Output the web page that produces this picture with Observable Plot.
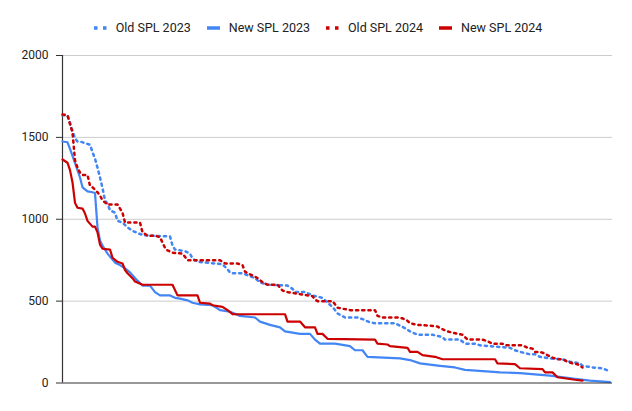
<!DOCTYPE html>
<html>
<head>
<meta charset="utf-8">
<script src="https://cdn.jsdelivr.net/npm/d3@7"></script>
<script src="https://cdn.jsdelivr.net/npm/@observablehq/plot@0.6"></script>
<style>
  html, body { margin: 0; padding: 0; background: #fff; }
  body { width: 632px; height: 411px; overflow: hidden; font-family: Roboto, Arial, sans-serif; }
  #legend { height: 45px; display: flex; justify-content: center; align-items: center; font-size: 12.5px; color: #222; padding: 10px 0 0 4px; box-sizing: border-box; }
  #legend .item { display: flex; align-items: center; margin: 0 8px; }
  #legend svg { margin-right: 9px; }
</style>
</head>
<body>
<div id="legend"></div>
<div id="chart"></div>
<script>
// Series names and colours
const seriesNames = ["Old SPL 2023", "New SPL 2023", "Old SPL 2024", "New SPL 2024"];
const seriesColors = ["#4285F4", "#4285F4", "#CC0000", "#CC0000"];
const seriesDotted = [true, false, true, false];

// Old SPL 2023 (rank, value)
const os23Rank  = [0,2,3,4,5,6,7,9,11,12,13,14,15,16,17,18,19,21,22,24,26,28,30,32,34,43,44,45,49,51,52,54,61,64,66,67,68,72,77,79,82,90,92,93,97,100,104,106,108,110,113,118,120,123,125,133,135,137,139,142,148,152,153,159,161,165,167,171,179,181,183,187,189,191,195,200,203,207,208,212,216,219];
const os23Value = [1635,1635,1590,1540,1495,1475,1475,1465,1455,1410,1370,1315,1255,1190,1115,1095,1055,1040,990,980,950,930,915,905,900,895,840,815,805,790,760,740,730,725,695,675,670,670,640,615,600,595,575,555,555,535,520,490,465,425,400,400,390,370,365,365,350,335,315,295,295,280,265,265,240,240,230,225,215,200,190,175,175,160,150,145,130,120,105,95,90,70];

// New SPL 2023
const ns23Rank  = [0,2,3,5,7,8,10,12,13,14,15,16,18,21,23,25,27,30,32,35,37,39,43,45,47,50,52,55,60,63,67,71,77,79,83,87,89,95,99,101,103,109,115,117,120,122,135,139,143,151,157,161,171,175,183,195,205,211,219];
const ns23Value = [1475,1470,1430,1345,1255,1195,1170,1165,1160,950,870,840,790,735,720,700,675,625,595,595,555,535,535,520,515,505,490,480,475,445,435,410,400,375,355,340,315,300,300,265,240,240,225,200,200,160,150,140,120,105,95,80,70,65,60,45,25,15,5];

// Old SPL 2024
const os24Rank  = [0,2,3,4,5,6,7,8,10,11,12,14,15,16,18,22,24,25,31,32,34,37,39,41,42,44,48,50,63,65,70,72,73,74,77,78,80,82,86,88,90,94,100,101,102,108,110,115,125,126,128,134,136,138,139,142,147,150,151,154,158,160,161,162,168,170,172,176,177,184,186,188,189,191,193,194,196,198,200,202,204,206,208];
const os24Value = [1640,1635,1580,1530,1360,1315,1285,1270,1270,1205,1195,1165,1145,1115,1090,1090,1040,980,980,920,900,900,890,825,810,795,790,750,750,730,730,720,680,670,650,640,615,600,600,565,555,545,530,510,500,500,460,445,445,410,400,400,395,380,365,355,350,345,335,315,300,295,280,265,265,255,240,240,230,230,215,210,190,190,180,170,155,145,145,130,120,115,95];

// New SPL 2024
const ns24Rank  = [0,2,3,4,5,6,8,9,10,12,13,14,15,16,19,20,22,24,25,26,28,29,32,44,46,54,55,59,60,64,66,68,89,90,95,97,101,102,104,106,125,126,130,131,138,139,142,144,149,152,173,174,181,183,192,193,196,198,205,208];
const ns24Value = [1365,1345,1300,1225,1100,1070,1065,1035,990,955,955,920,845,820,815,765,740,730,690,670,640,620,600,600,535,535,490,485,475,465,445,420,420,375,375,340,340,300,300,270,265,240,235,225,215,190,190,170,160,145,145,120,115,90,85,65,65,35,20,15];

// Axis ticks
const yTicks = [0, 500, 1000, 1500, 2000];

const ranks = [os23Rank, ns23Rank, os24Rank, ns24Rank];
const values = [os23Value, ns23Value, os24Value, ns24Value];

const rows = [];
seriesNames.forEach((name, i) => {
  ranks[i].forEach((r, j) => rows.push({series: name, rank: r, value: values[i][j]}));
});

const lineMarks = seriesNames.map((name, i) =>
  Plot.line(rows.filter(d => d.series === name), {
    x: "rank", y: "value",
    stroke: seriesColors[i],
    strokeWidth: seriesDotted[i] ? 2.5 : 2.2,
    strokeDasharray: seriesDotted[i] ? "2.2,4" : null,
    strokeLinejoin: "round"
  })
);

const chart = Plot.plot({
  width: 632,
  height: 366,
  marginLeft: 62,
  marginRight: 20,
  marginTop: 10,
  marginBottom: 28.5,
  style: {fontFamily: "Roboto, Arial, sans-serif", fontSize: "12px", color: "#222", background: "#fff"},
  x: {domain: [0, 220], axis: null},
  y: {domain: [0, 2000], axis: null},
  marks: [
    Plot.ruleY(yTicks.filter(t => t > 0), {stroke: "#cccccc", strokeWidth: 1}),
    Plot.axisY({ticks: yTicks, label: null, tickSize: 6, tickPadding: 8, tickFormat: d => String(d), fontSize: 12, stroke: "#333", fill: "#222"}),
    Plot.ruleX([0], {stroke: "#333", strokeWidth: 1.2}),
    ...lineMarks,
    Plot.ruleY([0], {stroke: "#333", strokeWidth: 1.2})
  ]
});
document.getElementById("chart").appendChild(chart);

// Legend
const legend = d3.select("#legend");
seriesNames.forEach((name, i) => {
  const item = legend.append("div").attr("class", "item");
  const s = item.append("svg").attr("width", 13).attr("height", 6);
  s.append("line")
    .attr("x1", 0).attr("x2", 13).attr("y1", 3).attr("y2", 3)
    .attr("stroke", seriesColors[i])
    .attr("stroke-width", 3.5)
    .attr("stroke-dasharray", seriesDotted[i] ? "3.5,5.5" : null);
  item.append("span").text(name);
});
</script>
</body>
</html>
